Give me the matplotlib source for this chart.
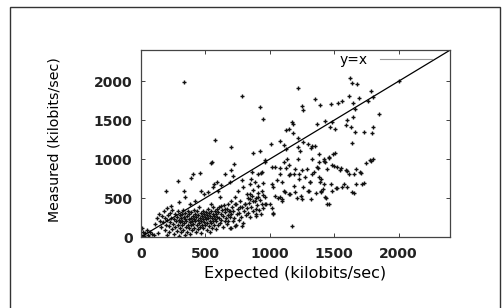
import matplotlib
matplotlib.use("Agg")
import matplotlib.pyplot as plt
from matplotlib.patches import Rectangle

plt.rcParams['font.family'] = ['DejaVu Sans']

# Scatter points: (expected, measured) kilobits/sec
expected_outer = [333, 786, 922, 951, 1216, 1250, 1255, 1349, 1388, 1476, 1529, 1557,
                  1620, 1635, 1680, 1617, 1693, 1784, 1805, 1844, 1760, 1648, 1661,
                  1643, 1602, 1589, 1628, 1661, 1732, 1805, 1792, 1641, 1432, 1466,
                  1510, 1484, 1367, 1172, 1180, 1153, 1125, 1182, 1081, 1107, 1128,
                  1219, 1255, 1216, 1237, 1294, 1330, 1354, 1320, 1328, 1380, 1419,
                  1458, 1492, 1380, 1367, 1432, 1445, 1484, 1518, 1549, 1589, 1615,
                  1667, 1700, 1779, 1800, 1719, 1667, 1562, 1523, 1641, 1484, 1411,
                  1393, 1380, 1341, 1401, 1432, 1458, 1310, 2002, 573, 703, 547, 726,
                  867, 924, 1008, 963, 1172]
measured_outer = [1987, 1814, 1663, 1512, 1909, 1680, 1624, 1771, 1698, 1711, 1719, 1741,
                  2039, 1978, 1966, 1810, 1780, 1871, 1793, 1581, 1741, 1719, 1642,
                  1538, 1499, 1439, 1417, 1352, 1348, 1408, 1331, 1201, 1495, 1417,
                  1383, 1482, 1447, 1482, 1447, 1383, 1374, 1331, 1231, 1179, 1132,
                  1266, 1218, 1158, 1106, 1192, 1170, 1165, 1149, 1007, 1063, 1007,
                  1028, 1063, 963, 899, 963, 877, 920, 899, 855, 855, 812,
                  877, 834, 985, 1000, 683, 683, 639, 631, 583, 596, 618,
                  704, 769, 834, 575, 510, 423, 704, 2000, 1244, 1153, 955, 942,
                  1080, 1102, 1192, 968, 143]

expected_mid = [1133, 1107, 1151, 1198, 1159, 1224, 1250, 1276, 1310, 1255, 1294, 1242,
                1198, 1159, 1115, 1081, 1099, 1042, 1029, 1055, 1076, 1016, 964, 938,
                911, 885, 906, 872, 938, 964, 911, 1003, 1029, 859, 781, 794, 820,
                846, 755, 729, 703, 677, 651, 625, 690, 737, 768, 807, 872, 964,
                781, 729, 703, 552, 568, 594, 456, 404, 391, 286, 333, 195, 234,
                294, 343, 378, 417, 469, 490, 521, 560, 651, 703, 716, 690, 625,
                599, 612, 547,
                935, 1043, 1083, 1130, 1216, 1372, 1419, 1458, 1505, 1497, 1551, 1598,
                1653, 1708, 1747, 1786, 944, 1014, 1092, 1146, 1185, 1224, 1287, 1326,
                1396, 1419, 1474, 1513, 1575, 1598, 1653, 1731, 857, 849, 849, 896,
                974, 1014, 951, 1068, 1092, 1146, 1107, 1185, 1208, 1248, 1318, 1302,
                1357, 1396, 1435, 1443, 1029, 896, 896]
measured_mid = [1007, 963, 920, 877, 812, 812, 855, 769, 704, 648, 596, 523,
                575, 553, 575, 510, 467, 531, 639, 726, 812, 899, 985, 834,
                812, 704, 661, 605, 596, 510, 510, 423, 302, 834, 734, 639, 553,
                488, 596, 510, 467, 423, 358, 402, 337, 423, 380, 423, 467, 423,
                143, 143, 121, 963, 683, 704, 821, 812, 760, 717, 596, 596, 402,
                445, 510, 423, 467, 596, 553, 575, 639, 812, 855, 777, 704, 674,
                596, 510, 423,
                827, 904, 891, 891, 995, 891, 982, 1008, 1072, 917, 891, 853,
                814, 827, 956, 982, 698, 685, 711, 801, 814, 749, 879, 814,
                749, 685, 685, 633, 685, 646, 569, 698, 749, 685, 556, 504,
                426, 375, 375, 504, 491, 556, 594, 659, 504, 491, 491, 594,
                569, 594, 504, 426, 297, 271, 362]

expected_dense = [5, 15, 25, 35, 45, 55, 70, 85, 10, 60, 100, 130,
                  110, 125, 140, 150, 160, 165, 175, 180, 185, 190, 195, 200, 200,
                  205, 210, 215, 220, 225, 230, 235, 240, 245, 250, 255, 260, 262,
                  268, 272, 278, 282, 286, 290, 295, 298, 300,
                  303, 306, 310, 313, 316, 320, 323, 327, 330, 333, 337, 340, 343,
                  346, 350, 353, 356, 360, 363, 366, 370, 373, 376, 380, 383, 386,
                  390, 393, 396, 400,
                  403, 406, 410, 413, 416, 420, 423, 426, 430, 433, 436, 440, 443,
                  446, 450, 453, 456, 460, 463, 466, 470, 473, 476, 480, 483, 486,
                  490, 493, 496, 500,
                  503, 506, 510, 513, 516, 520, 523, 526, 530, 533, 536, 540, 543,
                  546, 550, 553, 556, 560, 563, 566, 570, 573, 576, 580, 583, 586,
                  590, 593, 596, 600,
                  605, 610, 615, 620, 625, 630, 635, 640, 645, 650, 655, 660, 665,
                  670, 675, 680, 685, 690, 695, 700,
                  705, 712, 718, 725, 732, 738, 745, 752, 758, 765, 772, 778, 785,
                  792, 798,
                  805, 812, 820, 828, 835, 842, 850, 858, 866, 874, 882, 890, 898,
                  906, 914, 922, 930, 938, 946]
measured_dense = [30, 70, 15, 55, 90, 25, 60, 40, 120, 0, 20, 50,
                  170, 240, 300, 210, 130, 270, 190, 330, 90, 250, 160, 30, 370,
                  220, 280, 140, 60, 310, 190, 250, 100, 350, 170, 230, 40, 290,
                  130, 200, 260, 80, 330, 160, 220, 10, 280,
                  120, 190, 240, 60, 300, 150, 210, 350, 90, 260, 180, 20, 230,
                  310, 130, 200, 270, 70, 340, 160, 230, 110, 290, 190, 40, 250,
                  150, 320, 210, 90,
                  270, 170, 230, 350, 120, 300, 200, 60, 260, 160, 330, 220, 100,
                  280, 180, 380, 240, 130, 310, 200, 50, 270, 160, 340, 230, 110,
                  300, 190, 260, 150,
                  320, 230, 90, 280, 180, 360, 250, 140, 310, 210, 60, 270, 180,
                  340, 240, 120, 300, 200, 380, 270, 160, 330, 230, 100, 290, 200,
                  360, 260, 150, 320,
                  240, 380, 180, 300, 220, 350, 130, 270, 410, 200, 320, 250, 170,
                  360, 280, 210, 330, 120, 260, 300,
                  380, 200, 330, 250, 420, 160, 290, 360, 220, 310, 460, 260, 390,
                  180, 330,
                  430, 280, 370, 500, 310, 440, 260, 390, 520, 340, 460, 290, 410,
                  560, 350, 470, 300, 420, 540]

expected = expected_outer + expected_mid + expected_dense
measured = measured_outer + measured_mid + measured_dense

ref_line = [0, 2400]
x_ticks = [0, 500, 1000, 1500, 2000]
y_ticks = [0, 500, 1000, 1500, 2000]

fig = plt.figure(figsize=(5.03, 3.08), dpi=100)
ax = fig.add_axes([0.280, 0.2305, 0.615, 0.607])

ax.plot(expected, measured, linestyle='none', marker='+', markersize=3.5,
        markeredgewidth=1.0, color='#111111')
ax.plot(ref_line, ref_line, color='black', linewidth=0.9, label='y=x')

ax.set_xlim(0, 2400)
ax.set_ylim(0, 2400)
ax.set_xticks(x_ticks)
ax.set_yticks(y_ticks)
ax.tick_params(direction='in', top=True, right=True, length=3, width=0.6,
               colors='#222222')
ax.tick_params(axis='x', pad=7)
ax.tick_params(axis='y', pad=6)
for lab in ax.get_xticklabels() + ax.get_yticklabels():
    lab.set_fontsize(10)
    lab.set_fontweight('bold')
for s in ax.spines.values():
    s.set_color('#444444')
    s.set_linewidth(0.9)

ax.set_xlabel('Expected (kilobits/sec)', fontsize=11.5)
ax.set_ylabel('Measured (kilobits/sec)', fontsize=10.2)
ax.xaxis.set_label_coords(0.50, -0.155)
ax.yaxis.set_label_coords(-0.256, 0.52)

leg = ax.legend(loc='upper right', bbox_to_anchor=(0.94, 0.985), frameon=False,
                markerfirst=False, fontsize=10, handlelength=3.7,
                borderaxespad=0.0, borderpad=0.0, handletextpad=0.9)
for ln in leg.get_lines():
    ln.set_color('#999999')
    ln.set_linewidth(0.8)

# outer frame of the scanned figure
fig.patches.append(Rectangle((10/503, -0.05), 490/503, 1 - 7/308 + 0.05,
                             transform=fig.transFigure, fill=False,
                             edgecolor='#333333', linewidth=1.0))

fig.savefig('out.png', dpi=100)
